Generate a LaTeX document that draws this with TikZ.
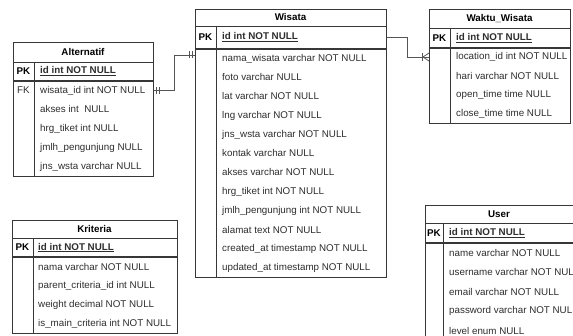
\documentclass[tikz,border=0pt]{standalone}
\usepackage{fontspec}
\setmainfont{Liberation Sans}
\usetikzlibrary{positioning}
\definecolor{TableLine}{RGB}{55,55,55}
\definecolor{FieldText}{RGB}{45,45,45}
\definecolor{LinkGray}{RGB}{85,85,85}

\begin{document}
\begin{tikzpicture}[x=1pt,y=-1pt,
    tbl/.style={draw=TableLine,line width=0.8pt,inner sep=0pt,anchor=north west},
    sep/.style={draw=TableLine,line width=0.8pt},
    pkline/.style={draw=TableLine,line width=1.6pt},
    fld/.style={anchor=west,inner sep=0pt,text=FieldText,font=\fontsize{9.8}{12}\selectfont},
    key/.style={inner sep=0pt,text=FieldText,font=\fontsize{9.8}{12}\selectfont},
    hdr/.style={inner sep=0pt,text=black,font=\fontsize{9.8}{12}\selectfont\bfseries},
    rel/.style={draw=LinkGray,line width=0.8pt}]
  \useasboundingbox (0,0) rectangle (573,336);
  \clip (0,0) rectangle (573,336);

  \node[tbl,minimum width=140,minimum height=134] (alternatif) at (13,42) {};
  \draw[sep] (13,62) -- (153,62);
  \draw[pkline] (13,81) -- (153,81);
  \draw[sep] (34,62) -- (34,176);
  \node[hdr] (alternatif-t) at (83,52) {Alternatif};
  \node[hdr] (alternatif-pk) at (23.5,71.5) {PK};
  \node[fld,font=\fontsize{9.8}{12}\selectfont\bfseries] (alternatif-id) at (40,71.5) {\underline{id int NOT NULL}};
  \node[key] (alternatif-fk) at (23.5,90.5) {FK};
  \foreach \t [count=\i] in {wisata\_id int NOT NULL,akses int\ \ NULL,hrg\_tiket int NULL,
      jmlh\_pengunjung NULL,jns\_wsta varchar NULL}
    \node[fld] (alternatif-r\i) at (40,{81+19*\i-9.5}) {\t};

  \node[tbl,minimum width=191,minimum height=268] (wisata) at (195,9) {};
  \draw[sep] (195,26) -- (386,26);
  \draw[pkline] (195,49) -- (386,49);
  \draw[sep] (216,26) -- (216,277);
  \node[hdr] (wisata-t) at (290.5,17.5) {Wisata};
  \node[hdr] (wisata-pk) at (205.5,37.5) {PK};
  \node[fld,font=\fontsize{9.8}{12}\selectfont\bfseries] (wisata-id) at (222,37.5) {\underline{id int NOT NULL}};
  \foreach \t [count=\i] in {nama\_wisata varchar NOT NULL,foto varchar NULL,lat varchar NOT NULL,
      lng varchar NOT NULL,jns\_wsta varchar NOT NULL,kontak varchar NULL,akses varchar NOT NULL,
      hrg\_tiket int NOT NULL,jmlh\_pengunjung int NOT NULL,alamat text NOT NULL,
      created\_at timestamp NOT NULL,updated\_at timestamp NOT NULL}
    \node[fld] (wisata-r\i) at (222,{49+19*\i-9.5}) {\t};

  \node[tbl,minimum width=141,minimum height=114] (waktu) at (429,9) {};
  \draw[sep] (429,28) -- (570,28);
  \draw[pkline] (429,48) -- (570,48);
  \draw[sep] (450,28) -- (450,123);
  \node[hdr] (waktu-t) at (499.5,18.5) {Waktu\_Wisata};
  \node[hdr] (waktu-pk) at (439.5,38) {PK};
  \node[fld,font=\fontsize{9.8}{12}\selectfont\bfseries] (waktu-id) at (456,38) {\underline{id int NOT NULL}};
  \foreach \t [count=\i] in {location\_id int NOT NULL,hari varchar NOT NULL,open\_time time NULL,
      close\_time time NULL}
    \node[fld] (waktu-r\i) at (456,{48+18.75*\i-9.4}) {\t};

  \node[tbl,minimum width=165,minimum height=113] (kriteria) at (12,220) {};
  \draw[sep] (12,238) -- (177,238);
  \draw[pkline] (12,257) -- (177,257);
  \draw[sep] (33,238) -- (33,333);
  \node[hdr] (kriteria-t) at (94.5,229) {Kriteria};
  \node[hdr] (kriteria-pk) at (22.5,247.5) {PK};
  \node[fld,font=\fontsize{9.8}{12}\selectfont\bfseries] (kriteria-id) at (38,247.5) {\underline{id int NOT NULL}};
  \foreach \t [count=\i] in {nama varchar NOT NULL,parent\_criteria\_id int NULL,
      weight decimal NOT NULL,is\_main\_criteria int NOT NULL}
    \node[fld] (kriteria-r\i) at (38,{257+19*\i-9.5}) {\t};

  \node[tbl,minimum width=180,minimum height=145] (user) at (425,205) {};
  \draw[sep] (425,223) -- (605,223);
  \draw[pkline] (425,243) -- (605,243);
  \draw[sep] (443,223) -- (443,350);
  \node[hdr] (user-t) at (499,214) {User};
  \node[hdr] (user-pk) at (434,233) {PK};
  \node[fld,font=\fontsize{9.8}{12}\selectfont\bfseries] (user-id) at (449,233) {\underline{id int NOT NULL}};
  \foreach \t [count=\i] in {name varchar NOT NULL,username varchar NOT NULL,email varchar NOT NULL,
      password varchar NOT NULL,level enum NULL}
    \node[fld] (user-r\i) at (449,{243+19.5*\i-9.75}) {\t};

  \coordinate (fk-out) at (alternatif.east |- alternatif-r1);
  \coordinate (wisata-in) at (wisata.west |- 0,55);
  \draw[rel] (fk-out) -- ++(21,0) |- (wisata-in);
  \draw[rel] (fk-out) ++(3,-3.5) -- ++(0,7) ++(2.5,0) -- ++(0,-7);
  \draw[rel] (wisata-in) ++(-3,-3.5) -- ++(0,7) ++(-2.5,0) -- ++(0,-7);

  \coordinate (wisata-out) at (wisata.east |- wisata-id);
  \coordinate (waktu-in) at (waktu.west |- 0,57);
  \draw[rel] (wisata-out) -- ++(21,0) |- (waktu-in);
  \draw[rel] (waktu-in) ++(-6,0) -- ++(6,-4) (waktu-in) ++(-6,0) -- ++(6,4);
  \draw[rel] (waktu-in) ++(-7,-4) -- ++(0,8);
\end{tikzpicture}
\end{document}
